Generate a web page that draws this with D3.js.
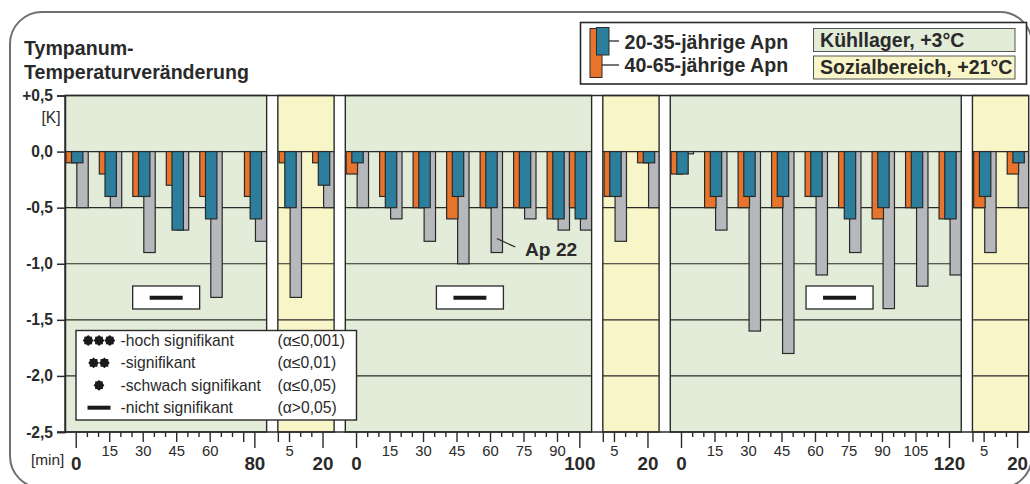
<!DOCTYPE html>
<html><head><meta charset="utf-8">
<script src="https://cdn.jsdelivr.net/npm/d3@7/dist/d3.min.js"></script>
<style>
html,body{margin:0;padding:0;background:#fff;}
svg{display:block;font-family:"Liberation Sans",Arial,Helvetica,sans-serif;}
</style></head><body>
<svg id="chart" width="1030" height="484"></svg>
<script>
// Change of tympanic temperature per exposure session (Kühllager / Sozialbereich)
const sessions = ["Kühllager", "Sozialbereich", "Kühllager", "Sozialbereich", "Kühllager", "Sozialbereich"];
const sessionLength = [80, 20, 100, 20, 120, 20];
const measureTimes = [
  [0, 15, 30, 45, 60, 80],
  [5, 20],
  [0, 15, 30, 45, 60, 75, 90, 100],
  [5, 20],
  [0, 15, 30, 45, 60, 75, 90, 105, 120],
  [5, 20]
];
// 40-65-jährige Apn
const older = [
  [-0.1, -0.2, -0.4, -0.3, -0.4, -0.4],
  [-0.1, -0.1],
  [-0.2, -0.4, -0.5, -0.6, -0.5, -0.5, -0.6, -0.5],
  [-0.4, -0.1],
  [-0.2, -0.5, -0.5, -0.5, -0.4, -0.5, -0.6, -0.5, -0.6],
  [-0.5, -0.2]
];
// 20-35-jährige Apn
const younger = [
  [-0.1, -0.4, -0.4, -0.7, -0.6, -0.6],
  [-0.5, -0.3],
  [-0.1, -0.5, -0.5, -0.4, -0.5, -0.5, -0.6, -0.6],
  [-0.4, -0.1],
  [-0.2, -0.4, -0.4, -0.4, -0.4, -0.6, -0.5, -0.5, -0.6],
  [-0.4, -0.1]
];
// single subject Ap 22
const ap22 = [
  [-0.5, -0.5, -0.9, -0.7, -1.3, -0.8],
  [-1.3, -0.5],
  [-0.5, -0.6, -0.8, -1.0, -0.9, -0.6, -0.7, -0.7],
  [-0.8, -0.5],
  [-0.02, -0.7, -1.6, -1.8, -1.1, -0.9, -1.4, -1.2, -1.1],
  [-0.9, -0.5]
];
const yTickValues = [0.5, 0, -0.5, -1, -1.5, -2, -2.5];
const yTickLabels = ["+0,5", "0,0", "-0,5", "-1,0", "-1,5", "-2,0", "-2,5"];
const sigMarkerMinute = [40.5, 51, 71];   // where the "nicht signifikant" marker sits in each Kühllager session
const sigLevels = [3, 2, 1, 0];            // number of dots; 0 = dash
const sigTexts = ["-hoch signifikant", "-signifikant", "-schwach signifikant", "-nicht signifikant"];
const sigAlphas = ["(α≤0,001)", "(α≤0,01)", "(α≤0,05)", "(α>0,05)"];
const ageGroups = ["20-35-jährige Apn", "40-65-jährige Apn"];
const roomLabels = ["Kühllager, +3°C", "Sozialbereich, +21°C"];

const C = {
  green: "#e3ecd8", yellow: "#f8f6c8", orange: "#e8742b", blue: "#2c7f9c",
  gray: "#b7b8bb", ink: "#2a2a2a", frame: "#707070"
};
const HEAD = 19.6;

const svg = d3.select("#chart");

// outer rounded frame
svg.append("rect").attr("x", 10).attr("y", 12).attr("width", 1022).attr("height", 476)
  .attr("rx", 32).attr("fill", "none").attr("stroke", C.frame).attr("stroke-width", 2);

// title
const title = svg.append("text").attr("x", 24).attr("font-size", HEAD).attr("font-weight", "bold").attr("fill", C.ink);
title.append("tspan").attr("x", 24).attr("y", 55).text("Tympanum-");
title.append("tspan").attr("x", 24).attr("y", 79).text("Temperaturveränderung");

// legend (top right)
const lg = svg.append("g");
lg.append("rect").attr("x", 580.5).attr("y", 22.5).attr("width", 446).attr("height", 61.5)
  .attr("fill", "#fff").attr("stroke", C.ink).attr("stroke-width", 1.6);
lg.append("rect").attr("x", 590).attr("y", 28.5).attr("width", 12).attr("height", 49)
  .attr("fill", C.orange).attr("stroke", C.ink).attr("stroke-width", 1);
lg.append("rect").attr("x", 596.5).attr("y", 27.5).attr("width", 12.5).attr("height", 27.5)
  .attr("fill", C.blue).attr("stroke", C.ink).attr("stroke-width", 1);
lg.append("line").attr("x1", 609).attr("x2", 619).attr("y1", 41).attr("y2", 41).attr("stroke", C.ink).attr("stroke-width", 1.3);
lg.append("line").attr("x1", 602).attr("x2", 619).attr("y1", 65).attr("y2", 65).attr("stroke", C.ink).attr("stroke-width", 1.3);
lg.selectAll("text.age").data(ageGroups).join("text").attr("class", "age")
  .attr("x", 624.5).attr("y", (d, i) => 48.5 + i * 23.5)
  .attr("font-size", HEAD).attr("font-weight", "bold").attr("fill", C.ink).text(d => d);
lg.selectAll("rect.room").data(roomLabels).join("rect").attr("class", "room")
  .attr("x", 813.5).attr("y", (d, i) => 28.5 + i * 27.5).attr("width", 201.5).attr("height", 23)
  .attr("fill", (d, i) => i ? C.yellow : C.green).attr("stroke", "#555").attr("stroke-width", 1);
lg.selectAll("text.room").data(roomLabels).join("text").attr("class", "room")
  .attr("x", 820).attr("y", (d, i) => 46.8 + i * 27)
  .attr("font-size", HEAD).attr("font-weight", "bold").attr("fill", C.ink).text(d => d);

// scales
const y = d3.scaleLinear().domain([0.5, -2.5]).range([95.5, 432]);
const pxPerMin = 2.233;
const gap = 11.2;
let cursor = 65;
const panels = sessions.map((s, p) => {
  const cold = s === "Kühllager";
  const dom = cold ? [-4.8, sessionLength[p] + 5.5] : [0, 25.2];
  const w = (dom[1] - dom[0]) * pxPerMin;
  const x = d3.scaleLinear().domain(dom).range([cursor, cursor + w]);
  const panel = { p, cold, x, x0: cursor, x1: cursor + w };
  cursor += w + gap;
  return panel;
});
const plotRight = panels[panels.length - 1].x1;

const defs = svg.append("defs");
panels.forEach(pn => {
  defs.append("clipPath").attr("id", "clip" + pn.p).append("rect")
    .attr("x", pn.x0).attr("y", y(0.5)).attr("width", pn.x1 - pn.x0).attr("height", y(-2.5) - y(0.5));
});

const barW = 11.4;
const gPanels = svg.append("g");
panels.forEach(pn => {
  const g = gPanels.append("g");
  g.append("rect").attr("x", pn.x0).attr("y", y(0.5)).attr("width", pn.x1 - pn.x0).attr("height", y(-2.5) - y(0.5))
    .attr("fill", pn.cold ? C.green : C.yellow);
  g.selectAll("line.grid").data(yTickValues.slice(1, -1)).join("line").attr("class", "grid")
    .attr("x1", pn.x0).attr("x2", pn.x1).attr("y1", d => y(d)).attr("y2", d => y(d))
    .attr("stroke", C.ink).attr("stroke-width", 1.1);
  const bars = g.append("g").attr("clip-path", `url(#clip${pn.p})`);
  const rows = measureTimes[pn.p].map((t, i) => ({ t, o: older[pn.p][i], yv: younger[pn.p][i], a: ap22[pn.p][i] }));
  const series = [
    { key: "a", off: 6.8, fill: C.gray },
    { key: "o", off: -4.2, fill: C.orange },
    { key: "yv", off: 1.5, fill: C.blue }
  ];
  series.forEach(s => {
    bars.selectAll(null).data(rows).join("rect")
      .attr("x", d => pn.x(d.t) + s.off - barW / 2).attr("width", barW)
      .attr("y", y(0)).attr("height", d => Math.max(1.5, y(d[s.key]) - y(0)))
      .attr("fill", s.fill).attr("stroke", C.ink).attr("stroke-width", 1.2);
  });
  g.append("rect").attr("x", pn.x0).attr("y", y(0.5)).attr("width", pn.x1 - pn.x0).attr("height", y(-2.5) - y(0.5))
    .attr("fill", "none").attr("stroke", C.ink).attr("stroke-width", 1.4);
});

// top border across all sessions
svg.append("line").attr("x1", 65).attr("x2", plotRight).attr("y1", y(0.5)).attr("y2", y(0.5))
  .attr("stroke", C.ink).attr("stroke-width", 1.5);

// y axis
const yAxis = svg.append("g").attr("transform", "translate(65,0)")
  .call(d3.axisLeft(y).tickValues(yTickValues).tickSize(8).tickPadding(4)
    .tickFormat((d, i) => yTickLabels[i]));
yAxis.select(".domain").attr("stroke", C.ink).attr("stroke-width", 1.5);
yAxis.selectAll(".tick line").attr("stroke", C.ink).attr("stroke-width", 1.5);
yAxis.selectAll(".tick text").attr("font-size", 15.6).attr("font-weight", "bold").attr("fill", C.ink)
  .attr("font-family", "Liberation Sans, Arial, sans-serif");
svg.append("text").attr("x", 60.5).attr("y", 123).attr("text-anchor", "end").attr("font-size", 15.6)
  .attr("fill", C.ink).text("[K]");

// x axes, one per session
svg.append("line").attr("x1", 57).attr("x2", plotRight).attr("y1", y(-2.5)).attr("y2", y(-2.5))
  .attr("stroke", C.ink).attr("stroke-width", 1.5);
const axY = y(-2.5);
panels.forEach(pn => {
  const len = sessionLength[pn.p];
  const all = d3.range(0, len + 1, 5);
  let minor, medium, major, mediumLabelled;
  if (pn.cold) {
    major = [0, len];
    medium = all.filter(t => t % 15 === 0 && t > 0 && t < len);
    minor = all.filter(t => !major.includes(t) && !medium.includes(t));
    mediumLabelled = medium.filter(t => len - t >= 10);
  } else {
    major = [len];
    medium = [0, 5];
    minor = all.filter(t => !major.includes(t) && !medium.includes(t));
    mediumLabelled = [5];
  }
  const styleAxis = (sel) => {
    sel.select(".domain").remove();
    sel.selectAll(".tick line").attr("stroke", C.ink).attr("stroke-width", 1.4);
    sel.selectAll(".tick text").attr("fill", C.ink).attr("font-family", "Liberation Sans, Arial, sans-serif");
  };
  svg.append("g").attr("transform", `translate(0,${axY})`)
    .call(d3.axisBottom(pn.x).tickValues(minor).tickSize(5).tickFormat("")).call(styleAxis);
  svg.append("g").attr("transform", `translate(0,${axY})`)
    .call(d3.axisBottom(pn.x).tickValues(medium).tickSize(10).tickPadding(3)
      .tickFormat(d => mediumLabelled.includes(d) ? d : "")).call(styleAxis)
    .selectAll(".tick text").attr("font-size", 14.8);
  svg.append("g").attr("transform", `translate(0,${axY})`)
    .call(d3.axisBottom(pn.x).tickValues(major).tickSize(16).tickPadding(4)
      .tickFormat(d => (pn.cold || d === len) ? d : "")).call(styleAxis)
    .selectAll(".tick text").attr("font-size", 18.8).attr("font-weight", "bold").attr("dy", "0.95em");
});
svg.append("text").attr("x", 31).attr("y", 465).attr("font-size", 15.4).attr("fill", C.ink).text("[min]");

// significance markers (all sessions: not significant)
panels.filter(pn => pn.cold).forEach((pn, k) => {
  const cx = pn.x(sigMarkerMinute[k]);
  svg.append("rect").attr("x", cx - 33.5).attr("y", 286).attr("width", 67).attr("height", 23)
    .attr("fill", "#fff").attr("stroke", C.ink).attr("stroke-width", 1.3);
  svg.append("line").attr("x1", cx - 16.5).attr("x2", cx + 16.5).attr("y1", 297.7).attr("y2", 297.7)
    .attr("stroke", "#1a1a1a").attr("stroke-width", 4);
});

// significance legend
const sg = svg.append("g");
sg.append("rect").attr("x", 76).attr("y", 330.5).attr("width", 280.5).attr("height", 89.5)
  .attr("fill", "#fff").attr("stroke", C.ink).attr("stroke-width", 1.4);
// small cog-shaped dot
const cogPts = d3.range(16).map(i => [i * Math.PI / 8, i % 2 ? 4.3 : 5.4]);
const cogPath = d3.lineRadial().curve(d3.curveLinearClosed)(cogPts);
sigLevels.forEach((n, i) => {
  const cy = 340.5 + i * 22.4;
  if (n === 0) {
    sg.append("line").attr("x1", 87.5).attr("x2", 110.5).attr("y1", cy).attr("y2", cy)
      .attr("stroke", "#1a1a1a").attr("stroke-width", 4);
  } else {
    const start = 99 - (n - 1) * 5.4;
    d3.range(n).forEach(j => {
      sg.append("path").attr("transform", `translate(${start + j * 10.8},${cy})`)
        .attr("d", cogPath).attr("fill", "#1a1a1a");
    });
  }
  sg.append("text").attr("x", 120.5).attr("y", cy + 5.4).attr("font-size", 15.7).attr("fill", C.ink).text(sigTexts[i]);
  sg.append("text").attr("x", 277.5).attr("y", cy + 5.4).attr("font-size", 15.7).attr("fill", C.ink).text(sigAlphas[i]);
});

// annotation for single subject
const pn3 = panels[2];
const annT = 60, annV = ap22[2][measureTimes[2].indexOf(60)];
const ax = pn3.x(annT) + 6.8, ay = y(annV) - 14;
svg.append("line").attr("x1", ax).attr("y1", ay).attr("x2", ax + 18.5).attr("y2", ay + 8.5)
  .attr("stroke", C.ink).attr("stroke-width", 1.3);
svg.append("text").attr("x", 525).attr("y", 255.5).attr("font-size", 19.2).attr("font-weight", "bold")
  .attr("fill", C.ink).text("Ap 22");
</script>
</body></html>
